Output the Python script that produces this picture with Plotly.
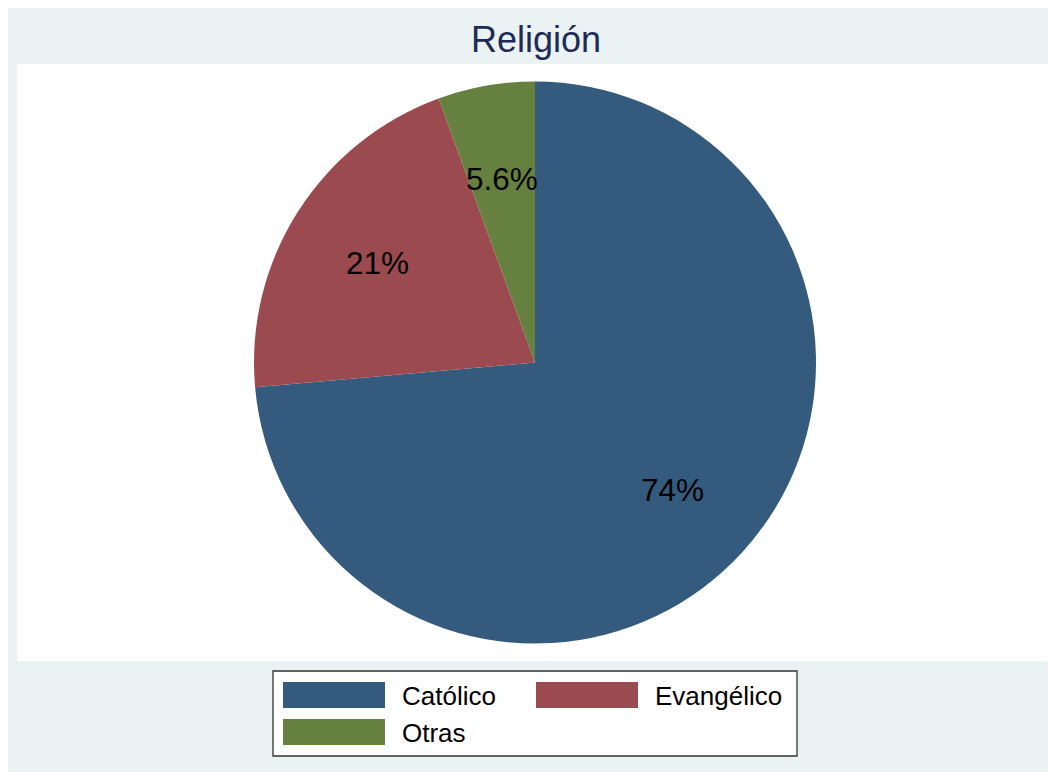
import math
import plotly.graph_objects as go

# ---- data ----
categories = ["Católico", "Evangélico", "Otras"]
percent = [73.59, 20.84, 5.57]
colors = ["#345A7E", "#9B4A50", "#66803F"]
title_text = "Religión"

W, H = 1056, 772
OFF = 8  # page body margin
# white plot region (page pixels in reference)
PL, PT, PR, PB = 17 - OFF, 64 - OFF, 1053 - OFF, 661 - OFF
pw, ph = PR - PL, PB - PT

def px2paper(x, y):
    # x, y given in reference page pixels
    x -= OFF
    y -= OFF
    return (x - PL) / pw, 1 - (y - PT) / ph

fig = go.Figure()

radius_px = 281
dy = (ph / 2 - radius_px) / ph
fig.add_trace(go.Pie(
    labels=categories,
    values=percent,
    sort=False,
    direction="clockwise",
    rotation=0,
    marker=dict(colors=colors, line=dict(width=0)),
    textinfo="none",
    hoverinfo="label+percent",
    domain=dict(x=[0, 1], y=[dy, 1 - dy]),
    showlegend=False,
))

shapes = []
annotations = []
shapes.append(dict(type="rect", xref="paper", yref="paper", layer="below",
                   x0=0, x1=1, y0=0, y1=1,
                   fillcolor="white", line=dict(width=0)))

# slice labels placed from the data (mid-angle of each slice)
cx, cy = 17 + pw / 2, 64 + ph / 2
total = sum(percent)
cum = 0
for v in percent:
    mid = (cum + v / 2) / total * 2 * math.pi
    cum += v
    r = 0.665 * radius_px
    lx = cx + r * math.sin(mid)
    ly = cy - r * math.cos(mid)
    ax, ay = px2paper(lx, ly + 1)
    annotations.append(dict(x=ax, y=ay, xref="paper", yref="paper",
                            text=f"{v:.2g}%", showarrow=False,
                            xanchor="center", yanchor="middle",
                            font=dict(family="Liberation Sans, Arial", size=31.5, color="black")))

# title
tx, ty = px2paper(536, 39)
annotations.append(dict(x=tx, y=ty, xref="paper", yref="paper", text=title_text,
                        showarrow=False, xanchor="center", yanchor="middle",
                        font=dict(family="Liberation Sans, Arial", size=36, color="#1C2B57")))

# legend box
x0, y0 = px2paper(273, 756)
x1, y1 = px2paper(797, 671)
shapes.append(dict(type="rect", xref="paper", yref="paper", layer="below",
                   x0=x0, x1=x1, y0=y0, y1=y1, fillcolor="white",
                   line=dict(width=0)))
shapes.append(dict(type="rect", xref="paper", yref="paper", layer="above",
                   x0=x0, x1=x1, y0=y0, y1=y1, fillcolor="rgba(0,0,0,0)",
                   line=dict(color="#333333", width=1.3)))
col_x = [283, 536]
row_y = [682, 719]
for i, (lab, col) in enumerate(zip(categories, colors)):
    kx = col_x[i % 2]
    ky = row_y[i // 2]
    a0, b0 = px2paper(kx, ky + 26)
    a1, b1 = px2paper(kx + 102, ky)
    shapes.append(dict(type="rect", xref="paper", yref="paper", layer="above",
                       x0=a0, x1=a1, y0=b0, y1=b1, fillcolor=col, line=dict(width=0)))
    lx, ly = px2paper(kx + 117, ky + 14)
    annotations.append(dict(x=lx, y=ly, xref="paper", yref="paper", text=lab,
                            showarrow=False, xanchor="left", yanchor="middle",
                            font=dict(family="Liberation Sans, Arial", size=26, color="black")))

fig.update_layout(
    width=W, height=H,
    margin=dict(l=PL, r=W - PR, t=PT, b=H - PB, pad=0),
    paper_bgcolor="#EAF2F3",
    plot_bgcolor="white",
    shapes=shapes,
    annotations=annotations,
    showlegend=False,
)

fig.write_html("out.html")
